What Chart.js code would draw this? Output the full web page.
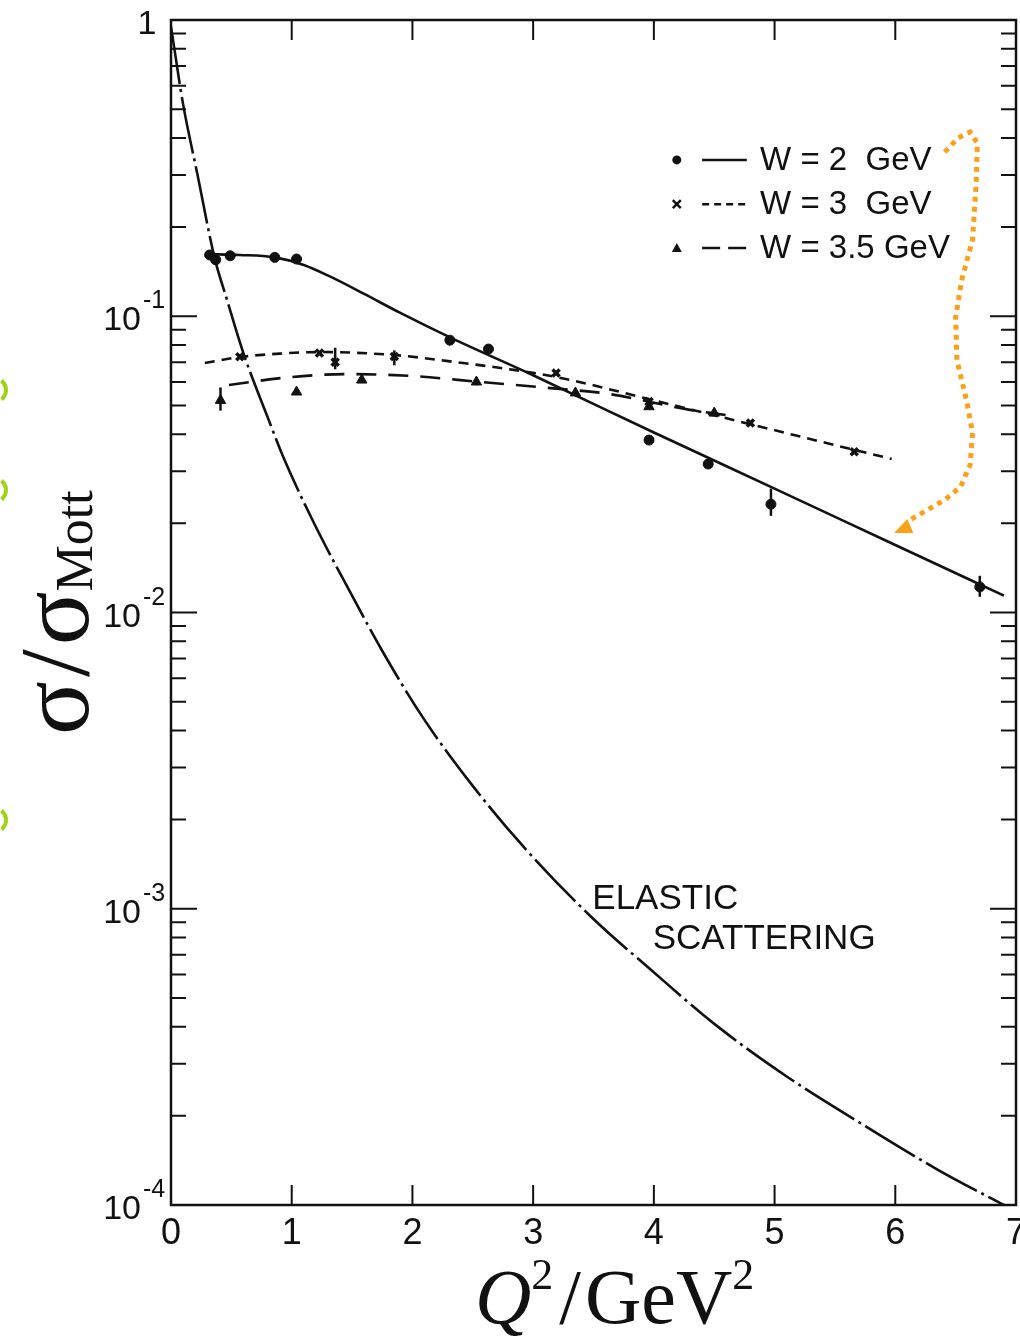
<!DOCTYPE html>
<html>
<head>
<meta charset="utf-8">
<script src="https://cdn.jsdelivr.net/npm/chart.js@4.4.1/dist/chart.umd.min.js"></script>
<style>
  html, body { margin: 0; padding: 0; background: #fff; }
</style>
</head>
<body>
<canvas id="chart" width="1020" height="1339"></canvas>
<script>
// data (x = Q^2 in GeV^2, y = sigma/sigma_Mott)
const xTicks = [0, 1, 2, 3, 4, 5, 6, 7];
const yDecades = [-4, -3, -2, -1, 0];

// W = 2 GeV
const w2X = [0.32, 0.37, 0.49, 0.86, 1.04, 2.31, 2.63, 3.96, 4.45, 4.97, 6.70];
const w2Y = [0.161, 0.155, 0.160, 0.158, 0.156, 0.083, 0.0775, 0.0382, 0.0317, 0.0232, 0.0122];
const w2CurveX = [0.30, 0.57, 0.86, 1.10, 1.32, 1.60, 1.90, 2.32, 3.0, 4.0, 5.0, 6.0, 6.9];
const w2CurveY = [0.162, 0.161, 0.158, 0.149, 0.136, 0.119, 0.1026, 0.0845, 0.0632, 0.0405, 0.0262, 0.0169, 0.0114];
const w2ErrX = [4.97, 6.70];
const w2ErrLo = [0.0212, 0.0113];
const w2ErrHi = [0.0262, 0.0133];

// W = 3 GeV
const w3X = [0.57, 1.23, 1.36, 1.85, 3.19, 3.96, 4.80, 5.66];
const w3Y = [0.073, 0.0751, 0.070, 0.0731, 0.0643, 0.0515, 0.0436, 0.0349];
const w3CurveX = [0.28, 0.57, 0.90, 1.24, 1.84, 2.42, 2.84, 3.23, 4.0, 4.8, 5.66, 5.97];
const w3CurveY = [0.0695, 0.0728, 0.0748, 0.0757, 0.0740, 0.0695, 0.0659, 0.0619, 0.0520, 0.0432, 0.0354, 0.0330];
const w3ErrX = [1.36, 1.85];
const w3ErrLo = [0.0662, 0.0683];
const w3ErrHi = [0.0783, 0.0767];

// W = 3.5 GeV
const w35X = [0.41, 1.04, 1.58, 2.53, 3.35, 3.96, 4.50];
const w35Y = [0.052, 0.0555, 0.0609, 0.060, 0.0551, 0.0495, 0.0471];
const w35CurveX = [0.48, 0.99, 1.46, 2.01, 2.56, 3.12, 3.61, 4.30, 4.6];
const w35CurveY = [0.0586, 0.0623, 0.0638, 0.0628, 0.0600, 0.0573, 0.0548, 0.0483, 0.0464];
const w35ErrX = [0.41, 2.53];
const w35ErrLo = [0.048, 0.0585];
const w35ErrHi = [0.0575, 0.0617];

// elastic scattering curve
const elX = [0.0, 0.10, 0.22, 0.36, 0.46, 0.60, 0.80, 0.93, 1.18, 1.49, 1.76, 2.09, 2.48, 2.92, 3.48, 3.98, 4.53, 5.11, 5.72, 6.36, 6.82, 6.90];
const elY = [0.95, 0.52, 0.30, 0.158, 0.115, 0.075, 0.0457, 0.0335, 0.0202, 0.0116, 0.0073, 0.0044, 0.00266, 0.00162, 0.00094, 0.00062, 0.00040, 0.00027, 0.000188, 0.000131, 0.000104, 0.0001];

// legend + notes (data coordinates)
const legendLabels = ['W = 2  GeV', 'W = 3  GeV', 'W = 3.5 GeV'];
const legendRowY = [0.337, 0.239, 0.170];
const elasticText = ['ELASTIC', 'SCATTERING'];
const elasticTextX = [3.49, 3.99];
const elasticTextY = [0.00100, 0.000731];

// orange hand-drawn arrow (data coordinates)
const arrowX = [6.41, 6.52, 6.62, 6.68, 6.67, 6.64, 6.55, 6.50, 6.51, 6.59, 6.64, 6.62, 6.54, 6.41, 6.25, 6.11];
const arrowY = [0.358, 0.400, 0.419, 0.384, 0.282, 0.181, 0.1325, 0.0994, 0.0712, 0.0521, 0.0404, 0.0315, 0.0265, 0.0240, 0.0220, 0.0204];
const arrowHeadX = [5.99, 6.15, 6.10];
const arrowHeadY = [0.01854, 0.01854, 0.0207];

const pts = (xs, ys) => xs.map((x, i) => ({ x, y: ys[i] }));
const INK = '#111';

const errorBars = {
  id: 'errorBars',
  afterDatasetsDraw(chart) {
    const { ctx, scales: { x, y } } = chart;
    ctx.save();
    ctx.strokeStyle = INK;
    ctx.lineWidth = 2.5;
    [[w2ErrX, w2ErrLo, w2ErrHi], [w3ErrX, w3ErrLo, w3ErrHi], [w35ErrX, w35ErrLo, w35ErrHi]].forEach(([xs, lo, hi]) => {
      xs.forEach((v, i) => {
        const px = x.getPixelForValue(v);
        ctx.beginPath();
        ctx.moveTo(px, y.getPixelForValue(lo[i]));
        ctx.lineTo(px, y.getPixelForValue(hi[i]));
        ctx.stroke();
      });
    });
    ctx.restore();
  }
};

const frameAndText = {
  id: 'frameAndText',
  afterDraw(chart) {
    const { ctx, chartArea: a, scales: { x, y } } = chart;
    ctx.save();

    // frame with inward ticks on all four sides
    ctx.strokeStyle = INK;
    ctx.lineWidth = 2.5;
    ctx.strokeRect(a.left, a.top, a.right - a.left, a.bottom - a.top);
    ctx.lineWidth = 2;
    ctx.beginPath();
    xTicks.forEach(v => {
      if (v <= 0 || v >= 7) return;
      const px = x.getPixelForValue(v);
      ctx.moveTo(px, a.bottom); ctx.lineTo(px, a.bottom - 20);
      ctx.moveTo(px, a.top); ctx.lineTo(px, a.top + 20);
    });
    yDecades.forEach(e => {
      for (let m = 1; m <= 9; m++) {
        const v = m * Math.pow(10, e);
        if (v > 1) break;
        const py = y.getPixelForValue(v);
        const len = m === 1 ? 26 : 15;
        ctx.moveTo(a.left, py); ctx.lineTo(a.left + len, py);
        ctx.moveTo(a.right, py); ctx.lineTo(a.right - len, py);
      }
    });
    ctx.stroke();

    // y tick labels with superscript exponents
    ctx.fillStyle = INK;
    ctx.textBaseline = 'alphabetic';
    yDecades.forEach(e => {
      const py = y.getPixelForValue(Math.pow(10, e));
      if (e === 0) {
        ctx.font = '34px "Liberation Sans"';
        ctx.textAlign = 'center';
        ctx.fillText('1', 147, py + 14);
        return;
      }
      ctx.font = '34px "Liberation Sans"';
      ctx.textAlign = 'right';
      ctx.fillText('10', 141, py + 14);
      ctx.font = '25px "Liberation Sans"';
      ctx.textAlign = 'left';
      ctx.fillText('-' + (-e), 143, py - 8);
    });

    // legend inside the plot
    const styles = [
      { marker: 'circle', dash: [] },
      { marker: 'cross', dash: [7, 5] },
      { marker: 'triangle', dash: [18, 8] }
    ];
    legendLabels.forEach((label, i) => {
      const py = y.getPixelForValue(legendRowY[i]);
      const mx = x.getPixelForValue(4.19);
      ctx.fillStyle = INK;
      ctx.strokeStyle = INK;
      ctx.lineWidth = 2.5;
      if (styles[i].marker === 'circle') {
        ctx.beginPath(); ctx.arc(mx, py, 4.5, 0, Math.PI * 2); ctx.fill();
      } else if (styles[i].marker === 'cross') {
        ctx.beginPath();
        ctx.moveTo(mx - 4, py - 4); ctx.lineTo(mx + 4, py + 4);
        ctx.moveTo(mx + 4, py - 4); ctx.lineTo(mx - 4, py + 4);
        ctx.stroke();
      } else {
        ctx.beginPath();
        ctx.moveTo(mx, py - 5); ctx.lineTo(mx + 5, py + 4); ctx.lineTo(mx - 5, py + 4);
        ctx.closePath(); ctx.fill();
      }
      ctx.setLineDash(styles[i].dash);
      ctx.beginPath();
      ctx.moveTo(x.getPixelForValue(4.40), py);
      ctx.lineTo(x.getPixelForValue(4.77), py);
      ctx.stroke();
      ctx.setLineDash([]);
      ctx.font = '33px "Liberation Sans"';
      ctx.textAlign = 'left';
      ctx.textBaseline = 'middle';
      ctx.fillText(label, x.getPixelForValue(4.88), py + 1);
    });

    // elastic scattering note
    ctx.textBaseline = 'alphabetic';
    ctx.font = '35px "Liberation Sans"';
    elasticText.forEach((t, i) => {
      ctx.fillText(t, x.getPixelForValue(elasticTextX[i]), y.getPixelForValue(elasticTextY[i]));
    });

    // orange dotted arrow
    ctx.strokeStyle = '#f9a11b';
    ctx.fillStyle = '#f9a11b';
    ctx.lineWidth = 5;
    ctx.setLineDash([5, 5]);
    ctx.beginPath();
    arrowX.forEach((v, i) => {
      const px = x.getPixelForValue(v), py = y.getPixelForValue(arrowY[i]);
      if (i === 0) ctx.moveTo(px, py); else ctx.lineTo(px, py);
    });
    ctx.stroke();
    ctx.setLineDash([]);
    ctx.beginPath();
    arrowHeadX.forEach((v, i) => {
      const px = x.getPixelForValue(v), py = y.getPixelForValue(arrowHeadY[i]);
      if (i === 0) ctx.moveTo(px, py); else ctx.lineTo(px, py);
    });
    ctx.closePath();
    ctx.fill();

    // green scribbles cut off at the left edge
    ctx.strokeStyle = '#a3d118';
    ctx.lineWidth = 4;
    [390, 490, 820].forEach(cy => {
      ctx.beginPath();
      ctx.arc(-6, cy, 12, -0.9, 0.9);
      ctx.stroke();
    });

    // y axis title: sigma / sigma_Mott (rotated)
    ctx.fillStyle = INK;
    ctx.save();
    ctx.translate(88, 735);
    ctx.rotate(-Math.PI / 2);
    ctx.textAlign = 'left';
    ctx.textBaseline = 'alphabetic';
    let cx = 0;
    ctx.font = '100px "Liberation Serif"';
    ctx.fillText('σ', cx, 0); cx += ctx.measureText('σ').width + 4;
    ctx.fillText('/', cx, 0); cx += ctx.measureText('/').width + 4;
    ctx.fillText('σ', cx, 0); cx += ctx.measureText('σ').width;
    ctx.font = '52px "Liberation Serif"';
    ctx.fillText('Mott', cx, 4);
    ctx.restore();

    // x axis title: Q^2 / GeV^2
    const base = 1323;
    let tx = 475;
    ctx.textAlign = 'left';
    ctx.font = 'italic 78px "Liberation Serif"';
    ctx.fillText('Q', tx, base); tx += ctx.measureText('Q').width;
    ctx.font = '44px "Liberation Serif"';
    ctx.fillText('2', tx, base - 34); tx += ctx.measureText('2').width + 6;
    ctx.font = '78px "Liberation Serif"';
    ctx.fillText('/', tx, base); tx += ctx.measureText('/').width + 4;
    ctx.fillText('GeV', tx, base); tx += ctx.measureText('GeV').width;
    ctx.font = '44px "Liberation Serif"';
    ctx.fillText('2', tx, base - 34);

    ctx.restore();
  }
};

const lineSet = (xs, ys, dash) => ({
  data: pts(xs, ys),
  showLine: true,
  borderColor: INK,
  borderWidth: 2.6,
  borderDash: dash,
  pointRadius: 0,
  cubicInterpolationMode: 'monotone',
  order: 2
});

const pointSet = (xs, ys, style, radius) => ({
  data: pts(xs, ys),
  showLine: false,
  pointStyle: style,
  pointRadius: radius,
  pointBackgroundColor: INK,
  pointBorderColor: INK,
  pointBorderWidth: style === 'crossRot' ? 3.5 : 1,
  order: 1
});

new Chart(document.getElementById('chart'), {
  type: 'scatter',
  data: {
    datasets: [
      lineSet(elX, elY, [58, 5, 3, 5]),
      lineSet(w2CurveX, w2CurveY, []),
      lineSet(w3CurveX, w3CurveY, [10, 7]),
      lineSet(w35CurveX, w35CurveY, [20, 12]),
      pointSet(w2X, w2Y, 'circle', 5),
      pointSet(w3X, w3Y, 'crossRot', 5),
      pointSet(w35X, w35Y, 'triangle', 6)
    ]
  },
  options: {
    responsive: false,
    animation: false,
    layout: { autoPadding: false, padding: { left: 0, right: 4, top: 20, bottom: 0 } },
    plugins: { legend: { display: false }, tooltip: { enabled: false } },
    scales: {
      x: {
        type: 'linear',
        min: 0,
        max: 7,
        grid: { display: false, drawTicks: false },
        border: { display: false },
        ticks: {
          stepSize: 1,
          autoSkip: false,
          maxRotation: 0,
          padding: 7,
          color: INK,
          font: { family: 'Liberation Sans', size: 36 }
        },
        afterFit(scale) {
          scale.height = 134;
          scale.paddingLeft = 0;
          scale.paddingRight = 0;
        }
      },
      y: {
        type: 'logarithmic',
        min: 1e-4,
        max: 1,
        grid: { display: false, drawTicks: false },
        border: { display: false },
        ticks: { display: false },
        afterFit(scale) {
          scale.width = 171;
        }
      }
    }
  },
  plugins: [errorBars, frameAndText]
});
</script>
</body>
</html>
